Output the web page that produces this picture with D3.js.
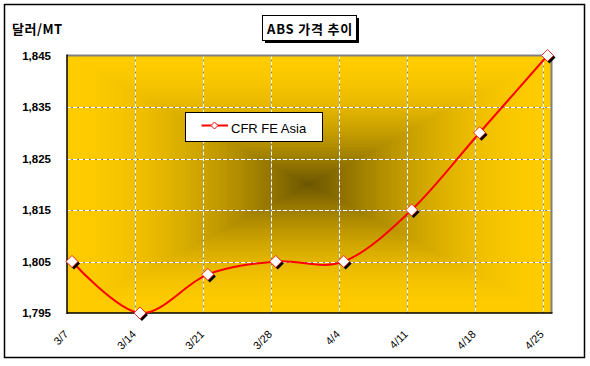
<!DOCTYPE html>
<html>
<head>
<meta charset="utf-8">
<script src="https://cdn.jsdelivr.net/npm/d3@7"></script>
<style>
html,body{margin:0;padding:0;background:#fff;}
svg{display:block;}
</style>
</head>
<body>
<svg id="chart" width="590" height="366"></svg>
<script>
const categories = ["3/7","3/14","3/21","3/28","4/4","4/11","4/18","4/25"];
const values = [1805, 1795, 1802.5, 1805, 1805, 1815, 1830, 1845];
const yTicks = [1795, 1805, 1815, 1825, 1835, 1845];
const seriesName = "CFR FE Asia";
const titleText = "ABS 가격 추이";
const yTitle = "달러/MT";

const svg = d3.select("#chart");
const plot = {left: 67, right: 551, top: 55.5, bottom: 313};
const gridRight = 542.5;
const markerShift = 5;

const xGrid = d3.scalePoint().domain(categories).range([plot.left, gridRight]);
const xData = c => xGrid(c) + markerShift;
const y = d3.scaleLinear().domain([1795, 1845]).range([plot.bottom, plot.top]);

// outer border
svg.append("rect").attr("x", 4.5).attr("y", 4.5).attr("width", 580).attr("height", 353)
  .attr("fill", "#fff").attr("stroke", "#000").attr("stroke-width", 1.5);

// background: rectangular "from center" gradient via nested rects
const bg = svg.append("g");
const cx = (plot.left + plot.right) / 2, cy = (plot.top + plot.bottom) / 2;
const hw = (plot.right - plot.left) / 2, hh = (plot.bottom - plot.top) / 2;
const col = d3.interpolateRgb("#6a5400", "#ffcc00");
const N = 90;
for (let i = 0; i < N; i++) {
  const t = 1 - i / N;
  const f = 1 - Math.pow(1 - t, 1.8);
  bg.append("rect")
    .attr("x", cx - hw * t).attr("y", cy - hh * t)
    .attr("width", 2 * hw * t).attr("height", 2 * hh * t)
    .attr("fill", col(f)).attr("shape-rendering", "crispEdges");
}

// gridlines
const grid = svg.append("g");
const hLines = yTicks.filter(v => v > 1795 && v < 1845);
const vCats = categories.slice(1);
function dashedLine(x1, y1, x2, y2) {
  grid.append("line").attr("x1", x1).attr("y1", y1).attr("x2", x2).attr("y2", y2)
    .attr("stroke", "#808080").attr("stroke-width", 1);
  grid.append("line").attr("x1", x1).attr("y1", y1).attr("x2", x2).attr("y2", y2)
    .attr("stroke", "#fff").attr("stroke-width", 1).attr("stroke-dasharray", "4,2");
}
hLines.forEach(v => dashedLine(plot.left, Math.round(y(v)) + 0.5, plot.right, Math.round(y(v)) + 0.5));
vCats.forEach(c => dashedLine(Math.round(xGrid(c)) + 0.5, plot.top, Math.round(xGrid(c)) + 0.5, plot.bottom));

// plot borders
svg.append("line").attr("x1", plot.left).attr("y1", plot.top).attr("x2", plot.right + 1).attr("y2", plot.top)
  .attr("stroke", "#808080").attr("stroke-width", 2);
svg.append("line").attr("x1", plot.right + 0.5).attr("y1", plot.top).attr("x2", plot.right + 0.5).attr("y2", plot.bottom)
  .attr("stroke", "#808080").attr("stroke-width", 2);
svg.append("line").attr("x1", plot.left).attr("y1", plot.top - 1).attr("x2", plot.left).attr("y2", plot.bottom + 1)
  .attr("stroke", "#000").attr("stroke-width", 1.5);
svg.append("line").attr("x1", plot.left).attr("y1", plot.bottom).attr("x2", plot.right + 1.5).attr("y2", plot.bottom)
  .attr("stroke", "#000").attr("stroke-width", 1.5);

// y axis labels
const yAxis = d3.axisLeft(y).tickValues(yTicks).tickSize(0).tickPadding(16).tickFormat(d3.format(","));
const ya = svg.append("g").attr("transform", `translate(${plot.left},0)`).call(yAxis);
ya.select(".domain").remove();
ya.selectAll("text").attr("font-family", "Arial, 'Liberation Sans', sans-serif")
  .attr("font-weight", "bold").attr("font-size", "11.5px").attr("fill", "#000");

// x axis labels
const xa = svg.append("g");
xa.selectAll("text").data(categories).join("text")
  .attr("transform", d => `translate(${xGrid(d) + 2},${plot.bottom + 22}) rotate(-45)`)
  .attr("text-anchor", "end")
  .attr("font-family", "Arial, 'Liberation Sans', sans-serif")
  .attr("font-size", "11px").attr("fill", "#000")
  .text(d => d);

// line
const data = categories.map((c, i) => ({c, v: values[i]}));
const line = d3.line().x(d => xData(d.c)).y(d => y(d.v)).curve(d3.curveCatmullRom.alpha(0));
svg.append("path").datum(data).attr("d", line).attr("fill", "none")
  .attr("stroke", "#ff0000").attr("stroke-width", 2);

// markers
const diamond = s => `M0,${-s}L${s},0L0,${s}L${-s},0Z`;
const mk = svg.append("g");
mk.selectAll("path.sh").data(data).join("path").attr("class", "sh")
  .attr("transform", d => `translate(${xData(d.c) + 2},${y(d.v) + 2})`)
  .attr("d", diamond(6)).attr("fill", "#000");
mk.selectAll("path.m").data(data).join("path").attr("class", "m")
  .attr("transform", d => `translate(${xData(d.c)},${y(d.v)})`)
  .attr("d", diamond(6)).attr("fill", "#fff").attr("stroke", "#ff0000").attr("stroke-width", 0.8);

// legend
const lg = svg.append("g");
lg.append("rect").attr("x", 185.5).attr("y", 112.5).attr("width", 137).attr("height", 29)
  .attr("fill", "#fff").attr("stroke", "#000").attr("stroke-width", 1);
lg.append("line").attr("x1", 201.5).attr("y1", 125.5).attr("x2", 228).attr("y2", 125.5)
  .attr("stroke", "#ff0000").attr("stroke-width", 2);
lg.append("path").attr("transform", "translate(214.5,125.5)").attr("d", diamond(3.5))
  .attr("fill", "#fff").attr("stroke", "#ff0000").attr("stroke-width", 1);
lg.append("text").attr("x", 231).attr("y", 133).attr("font-family", "Arial, 'Liberation Sans', sans-serif")
  .attr("font-size", "13px").attr("fill", "#000").text(seriesName);

// title
const tg = svg.append("g");
tg.append("rect").attr("x", 265).attr("y", 18).attr("width", 94).attr("height", 25).attr("fill", "#000");
tg.append("rect").attr("x", 262.5).attr("y", 15.5).attr("width", 94).attr("height", 25)
  .attr("fill", "#fff").attr("stroke", "#000").attr("stroke-width", 1);
tg.append("text").attr("x", 310).attr("y", 33.5).attr("text-anchor", "middle")
  .attr("font-family", "'Noto Sans CJK KR', sans-serif").attr("font-weight", "bold")
  .attr("font-size", "13px").attr("letter-spacing", "0.8px").attr("fill", "#000").text(titleText);

// y title
svg.append("text").attr("x", 12).attr("y", 34).attr("font-family", "'Noto Sans CJK KR', sans-serif")
  .attr("font-weight", "bold").attr("font-size", "13px").attr("letter-spacing", "0.5px")
  .attr("fill", "#000").text(yTitle);
</script>
</body>
</html>
